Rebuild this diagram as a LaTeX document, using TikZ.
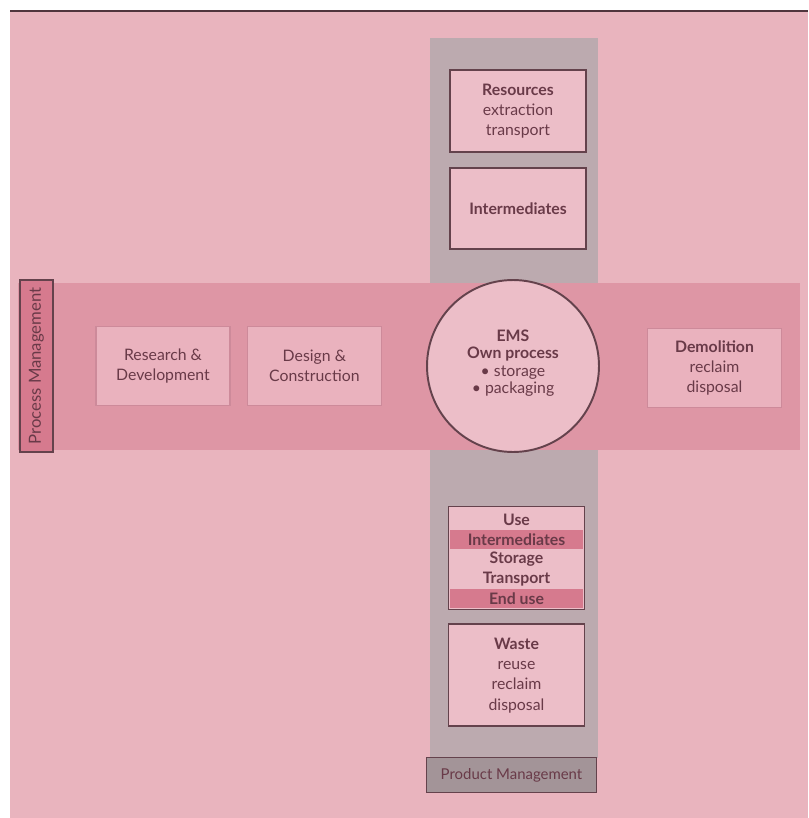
\documentclass[tikz,border=0pt]{standalone}
\usepackage{fontspec}
\setmainfont{Lato}
\usetikzlibrary{positioning}
\definecolor{bgpink}{RGB}{233,180,190}
\definecolor{bandpink}{RGB}{222,150,165}
\definecolor{greyband}{RGB}{188,170,175}
\definecolor{boxpink}{RGB}{236,190,200}
\definecolor{stagepink}{RGB}{234,178,190}
\definecolor{stageedge}{RGB}{205,138,154}
\definecolor{rowpink}{RGB}{214,122,142}
\definecolor{edge}{RGB}{100,66,76}
\definecolor{ink}{RGB}{105,58,72}
\definecolor{pmgrey}{RGB}{163,148,152}
\tikzstyle{stage} = [rectangle, minimum width=2.68cm, minimum height=1.58cm, align=center, draw=stageedge, line width=0.8pt, fill=stagepink, text=ink, font=\fontsize{9}{11.5}\selectfont]
\tikzstyle{prodbox} = [rectangle, minimum width=2.72cm, minimum height=1.63cm, align=center, draw=edge, line width=1.1pt, fill=boxpink, text=ink, font=\fontsize{9}{11.5}\selectfont]
\tikzstyle{row} = [rectangle, minimum width=2.68cm, minimum height=0.38cm, inner sep=0pt, text=ink, font=\fontsize{9}{11}\selectfont\bfseries]
\tikzstyle{rowhi} = [row, fill=rowpink]
\tikzstyle{mgmt} = [rectangle, draw=edge, line width=1pt, text=ink, inner sep=0pt]

\begin{document}
\begin{tikzpicture}[x=0.02cm, y=-0.02cm, node distance=0.28cm]

    % Background and bands
    \useasboundingbox (0,0) rectangle (808,818);
    \fill [white] (0,0) rectangle (808,818);
    \fill [bgpink] (10,12) rectangle (808,818);
    \draw [edge!80!black, line width=1.2pt] (10,11) -- (808,11);
    \fill [greyband] (430,38) rectangle (598,758);
    \fill [bandpink] (18,283) rectangle (800,450);

    % Process side
    \node (process_mgmt) [mgmt, fill=rowpink, minimum width=3.44cm, minimum height=0.66cm, rotate=90, font=\fontsize{9.5}{11}\selectfont] at (36.5,366) {Process Management};
    \node (research) [stage] at (163,366) {Research \&\\Development};
    \node (design) [stage, right=0.32cm of research] {Design \&\\Construction};
    \node (ems) [circle, draw=edge, line width=1.1pt, fill=boxpink, minimum size=3.44cm, align=center, text=ink, font=\fontsize{9}{9.8}\selectfont] at (513,366) {\textbf{EMS}\\\textbf{Own process}\\• storage\\• packaging\\[-5pt]};
    \node (demolition) [stage] at (714.5,368) {\textbf{Demolition}\\reclaim\\disposal};

    % Product side, upstream
    \node (resources) [prodbox] at (518,111) {\textbf{Resources}\\extraction\\transport};
    \node (intermediates) [prodbox, below=0.28cm of resources] {\textbf{Intermediates}};

    % Product side, downstream
    \node (use_box) [prodbox, minimum height=2.06cm] at (516.5,558) {};
    \node (row_use) [row] at (516.5,520) {Use};
    \node (row_inter) [rowhi, below=0cm of row_use] {Intermediates};
    \node (row_storage) [row, below=0cm of row_inter] {Storage};
    \node (row_transport) [row, below=0cm of row_storage] {Transport};
    \node (row_end) [rowhi, below=0cm of row_transport] {End use};
    \node (waste) [prodbox, minimum height=2.04cm, below=0.26cm of use_box] {\textbf{Waste}\\reuse\\reclaim\\disposal};
    \node (product_mgmt) [mgmt, fill=pmgrey, minimum width=3.4cm, minimum height=0.7cm, font=\fontsize{8.5}{10}\selectfont] at (511.5,775) {Product Management};

\end{tikzpicture}
\end{document}
